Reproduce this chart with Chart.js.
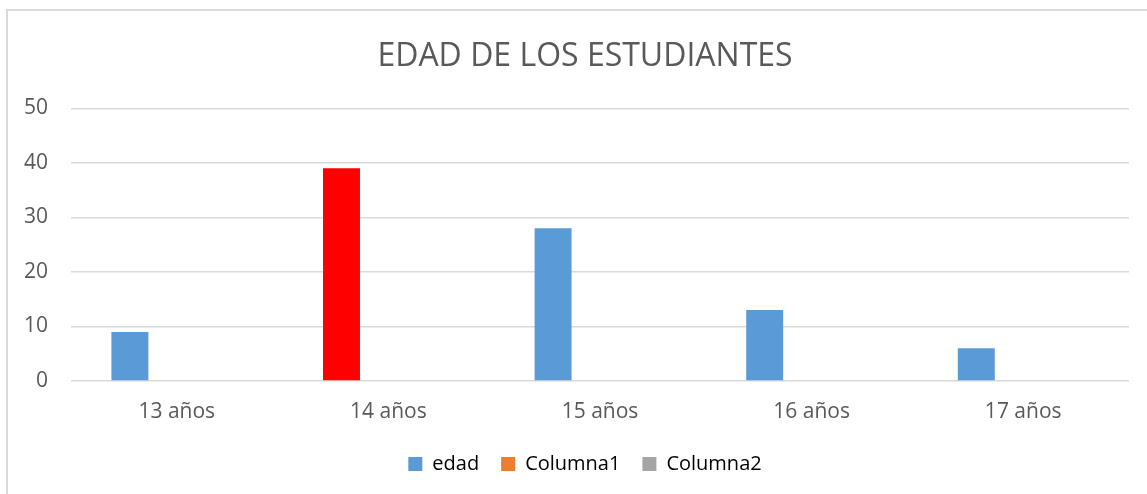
<!DOCTYPE html>
<html>
<head>
<meta charset="utf-8">
<title>Edad de los estudiantes</title>
<script src="https://cdn.jsdelivr.net/npm/chart.js@4.4.1/dist/chart.umd.min.js"></script>
<style>
  html, body { margin: 0; padding: 0; background: #fff; overflow: hidden; }
  .frame {
    position: absolute; left: 6px; top: 9px;
    width: 1160px; height: 520px;
    border: 2px solid #d9d9d9;
  }
  .wrap { position: absolute; left: 0; top: 0; width: 1147px; height: 494px; }
</style>
</head>
<body>
<div class="frame"></div>
<div class="wrap"><canvas id="myChart"></canvas></div>
<script>
// data
const categories = ["13 años", "14 años", "15 años", "16 años", "17 años"];
const edad = [9, 39, 28, 13, 6];
const columna1 = [null, null, null, null, null];
const columna2 = [null, null, null, null, null];
const yTicks = [0, 10, 20, 30, 40, 50];

const textColor = "#595959";
const gridColor = "#d9d9d9";
const fontFamily = "'Open Sans', sans-serif";

// 14 años bar is painted red in the original
const edadColors = edad.map((v, i) => (i === 1 ? "#ff0000" : "#5b9bd5"));

const barOpts = {
  categoryPercentage: 0.665,
  barPercentage: 0.788,
  borderWidth: 0,
};

// title and legend sit a bit right of the canvas centre in the original
const shiftBoxes = {
  id: "shiftBoxes",
  afterLayout: (chart) => {
    if (chart.titleBlock) chart.titleBlock.left = 41;
    if (chart.legend) chart.legend.left = 41;
  },
};

const main = () => {
  const ctx = document.querySelector("#myChart");
  new Chart(ctx, {
    type: "bar",
    data: {
      labels: categories,
      datasets: [
        { label: "edad", data: edad, backgroundColor: edadColors, ...barOpts },
        { label: "Columna1", data: columna1, backgroundColor: "#ed7d31", ...barOpts },
        { label: "Columna2", data: columna2, backgroundColor: "#a5a5a5", ...barOpts },
      ],
    },
    plugins: [shiftBoxes],
    options: {
      responsive: true,
      maintainAspectRatio: false,
      animation: false,
      layout: { padding: { left: 0, right: 18, top: 0, bottom: 10 } },
      plugins: {
        tooltip: { enabled: false },
        title: {
          display: true,
          text: "EDAD DE LOS ESTUDIANTES",
          color: textColor,
          font: { family: fontFamily, size: 32, weight: "normal" },
          padding: { top: 38, bottom: 32 },
        },
        legend: {
          position: "bottom",
          labels: {
            color: textColor,
            font: { family: fontFamily, size: 20 },
            boxWidth: 14,
            boxHeight: 14,
            padding: 22,
            generateLabels: (chart) =>
              chart.data.datasets.map((ds, i) => ({
                text: ds.label,
                fillStyle: i === 0 ? "#5b9bd5" : ds.backgroundColor,
                strokeStyle: "transparent",
                lineWidth: 0,
                datasetIndex: i,
              })),
          },
        },
      },
      scales: {
        x: {
          grid: { display: false, drawTicks: false },
          border: { display: false },
          ticks: {
            color: textColor,
            font: { family: fontFamily, size: 21 },
            padding: 18,
          },
          afterFit: (scale) => {
            scale.height = 51;
          },
        },
        y: {
          min: yTicks[0],
          max: yTicks[yTicks.length - 1],
          afterBuildTicks: (scale) => {
            scale.ticks = yTicks.map((v) => ({ value: v }));
          },
          grid: { color: gridColor, lineWidth: 1.5, drawTicks: false },
          border: { display: false },
          ticks: {
            color: textColor,
            font: { family: fontFamily, size: 21 },
            padding: 23,
          },
          afterFit: (scale) => {
            scale.width = 71;
          },
        },
      },
    },
  });
};
main();
</script>
</body>
</html>
